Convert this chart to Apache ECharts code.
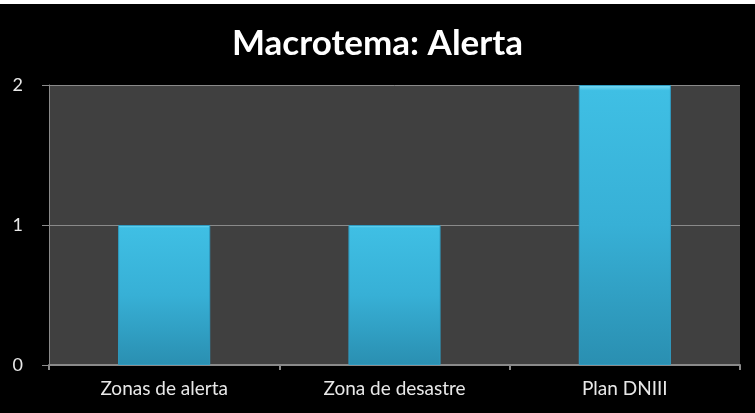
<!DOCTYPE html>
<html><head><meta charset="utf-8">
<script src="https://cdn.jsdelivr.net/npm/echarts@6/dist/echarts.min.js"></script>
<style>html,body{margin:0;padding:0;background:#fff;}#c{position:absolute;left:0;top:4px;width:755px;height:409px;background:#000;}</style>
</head><body><div id="c"></div>
<script>
const titleText = 'Macrotema: Alerta';
const categories = ['Zonas de alerta', 'Zona de desastre', 'Plan DNIII'];
const values = [1, 1, 2];
const yTicks = {min: 0, max: 2, interval: 1};

const chart = echarts.init(document.getElementById('c'));
chart.setOption({
  backgroundColor: '#000',
  animation: false,
  title: {
    text: titleText, left: 'center', top: 17,
    textStyle: {color: '#fff', fontFamily: 'Lato', fontWeight: 'bold', fontSize: 35}
  },
  grid: {left: 49, right: 15, top: 81, bottom: 48, show: true, backgroundColor: '#404040', borderWidth: 0},
  xAxis: {
    type: 'category', data: categories,
    axisLine: {show: true, lineStyle: {color: '#8a8a8a', width: 2}},
    axisTick: {show: true, length: 5, lineStyle: {color: '#8a8a8a', width: 2}},
    axisLabel: {color: '#e8e8e8', fontFamily: 'Lato', fontSize: 19, margin: 14},
    splitLine: {show: false}
  },
  yAxis: {
    type: 'value', min: yTicks.min, max: yTicks.max, interval: yTicks.interval,
    axisLine: {show: true, lineStyle: {color: '#8a8a8a', width: 1}},
    axisTick: {show: true, length: 7, lineStyle: {color: '#8a8a8a'}},
    axisLabel: {color: '#e8e8e8', fontFamily: 'Lato', fontSize: 18, margin: 26},
    splitLine: {show: true, lineStyle: {color: '#8a8a8a', width: 1}}
  },
  series: [{
    type: 'bar', data: values, barWidth: '40%',
    itemStyle: {
      color: new echarts.graphic.LinearGradient(0, 0, 0, 1, [
        {offset: 0, color: '#7fdcf5'},
        {offset: 0.02, color: '#3fbfe4'},
        {offset: 0.5, color: '#37b0d6'},
        {offset: 1, color: '#2a8fb1'}
      ]),
      borderColor: '#2f9cc2', borderWidth: 1
    }
  }]
});
</script></body></html>
